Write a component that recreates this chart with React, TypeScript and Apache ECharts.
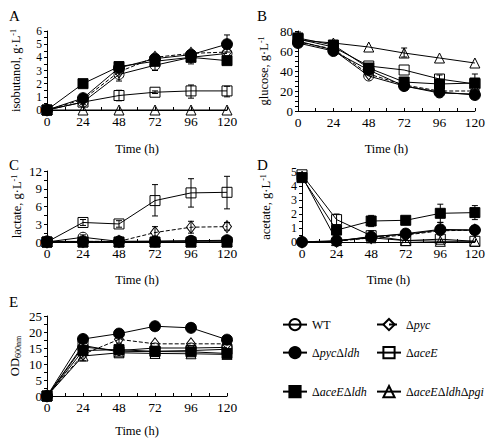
import React, { useEffect, useRef } from 'react';
import * as echarts from 'echarts';

const times = [0, 24, 48, 72, 96, 120];
const strains = ['WT', 'Δpyc', 'ΔpycΔldh', 'ΔaceE', 'ΔaceEΔldh', 'ΔaceEΔldhΔpgi'];

// rows follow the order of `strains`
const isobutanol = [
  [0, 0.6, 2.7, 3.4, 4.0, 4.3],
  [0, 0.8, 2.9, 4.0, 4.3, 4.4],
  [0, 0.9, 3.2, 3.9, 4.2, 5.0],
  [0, 0.6, 1.1, 1.35, 1.45, 1.45],
  [0, 2.0, 3.3, 3.7, 4.0, 3.75],
  [0, 0, 0, 0, 0, 0],
];
const glucose = [
  [70, 61, 35, 25, 18, 17],
  [69, 62, 37, 26, 20, 20],
  [68, 60, 41, 25, 19, 16],
  [72, 64, 45, 41, 32, 27],
  [73, 66, 43, 29, 27, 28],
  [71, 68, 64, 58, 53, 48],
];
const lactate = [
  [0, 0.8, 0.1, 0.15, 0.2, 0.2],
  [0, 0.1, 0.1, 1.6, 2.5, 2.6],
  [0.1, 0.1, 0.1, 0.1, 0.2, 0.3],
  [0, 3.3, 3.05, 7.0, 8.3, 8.4],
  [0, 0, 0, 0, 0, 0],
  [0, 0, 0, 0, 0, 0],
];
const acetate = [
  [0, 0.05, 0.4, 0.55, 0.85, 0.85],
  [0, 0.05, 0.3, 0.5, 0.8, 0.85],
  [0, 0.1, 0.35, 0.6, 0.9, 0.85],
  [4.8, 1.6, 0.45, 0.1, 0.2, 0.05],
  [4.6, 0.85, 1.5, 1.55, 2.05, 2.1],
  [4.7, 0.1, 0.3, 0.1, 0.05, 0.05],
];
const od600 = [
  [0, 15.3, 14.2, 15.0, 15.0, 15.2],
  [0, 13.0, 17.7, 16.3, 16.3, 16.3],
  [0, 17.8, 19.5, 21.8, 21.3, 17.6],
  [0, 15.8, 13.8, 14.0, 14.2, 14.6],
  [0, 14.2, 14.5, 13.9, 13.8, 13.3],
  [0, 12.5, 13.5, 13.3, 13.2, 13.0],
];

// error bars: [time, low, high]
const isobutanolErr = [
  [48, 2.2, 3.2], [72, 3.0, 3.9], [96, 3.5, 4.5], [120, 4.4, 5.7], [96, 3.9, 4.5],
  [48, 0.7, 1.5], [72, 1.25, 1.45], [96, 0.9, 1.9], [120, 1.0, 1.8], [24, 0.4, 1.0],
];
const glucoseErr = [[0, 66, 79], [24, 63, 70], [72, 54, 63], [96, 29, 36], [120, 20, 37]];
const lactateErr = [
  [24, 2.8, 3.8], [48, 2.5, 3.6], [72, 4.4, 9.7], [96, 5.9, 10.7], [120, 5.6, 11.1],
  [72, 0.7, 2.6], [96, 1.5, 3.5], [120, 2.0, 3.3], [24, 0, 1.2],
];
const acetateErr = [
  [24, 1.2, 2.0], [48, 1.1, 1.9], [72, 1.3, 1.8], [96, 1.4, 2.7], [120, 1.6, 2.6],
  [96, 0.5, 1.4], [48, 0.3, 0.8],
];
const od600Err = [[24, 11, 14], [48, 16.5, 19], [24, 15, 17]];

const panelLetters = ['A', 'B', 'C', 'D', 'E'];
const yNames = ['isobutanol, g·L{s|-1}', 'glucose, g·L{s|-1}', 'lactate, g·L{s|-1}', 'acetate, g·L{s|-1}', 'OD{b|600nm}'];
const yMax = [6, 80, 12, 5, 25];
const yInterval = [1, 20, 3, 1, 5];
const xName = 'Time (h)';

const FONT = 'Liberation Serif';

const markerStyles = [
  { symbol: 'circle', size: 10, filled: false, dashed: false },
  { symbol: 'diamond', size: [9, 12], filled: false, dashed: true },
  { symbol: 'circle', size: 11, filled: true, dashed: false },
  { symbol: 'rect', size: 10, filled: false, dashed: false },
  { symbol: 'rect', size: 10, filled: true, dashed: false },
  { symbol: 'triangle', size: 10, filled: false, dashed: false },
];

const legendFormat: Record<string, string> = {
  'WT': 'WT',
  'Δpyc': '{r|Δ}{i|pyc}',
  'ΔpycΔldh': '{r|Δ}{i|pyc}{r|Δ}{i|ldh}',
  'ΔaceE': '{r|Δ}{i|aceE}',
  'ΔaceEΔldh': '{r|Δ}{i|aceE}{r|Δ}{i|ldh}',
  'ΔaceEΔldhΔpgi': '{r|Δ}{i|aceE}{r|Δ}{i|ldh}{r|Δ}{i|pgi}',
};

export default function App() {
  const ref = useRef<HTMLDivElement>(null);
  useEffect(() => {
    if (!ref.current) return;
    const chart = echarts.init(ref.current, undefined, { renderer: 'svg' });

    const grids = [
      { left: 47, top: 31, width: 180, height: 79 },
      { left: 298, top: 31, width: 177, height: 80 },
      { left: 47, top: 171, width: 180, height: 71 },
      { left: 302, top: 172, width: 175, height: 70 },
      { left: 47, top: 316, width: 180, height: 80 },
    ];
    const nameGapsY = [24, 27, 23, 29, 25];
    const nameGapsX = [32, 31, 31, 31, 28];
    const minorSplit = [2, 4, 2, 2, 2];
    const yLabelSize = [11.5, 13, 13, 12, 13];
    const panelsData = [isobutanol, glucose, lactate, acetate, od600];
    const panelsErr = [isobutanolErr, glucoseErr, lactateErr, acetateErr, od600Err];
    const letterPos = [[9, 8], [257, 8], [9, 157], [257, 157], [9, 294]];

    const baseText = { fontFamily: FONT, fontWeight: 'normal', color: '#000' };

    const xAxes = grids.map((_, i) => ({
      type: 'value',
      gridIndex: i,
      min: 0,
      max: 120,
      interval: 24,
      name: xName,
      nameLocation: 'middle',
      nameGap: nameGapsX[i],
      nameTextStyle: { ...baseText, fontSize: 12.5 },
      axisLine: { show: true, onZero: false, lineStyle: { color: '#000', width: 1 } },
      axisTick: { show: true, inside: true, length: 3, lineStyle: { color: '#000' } },
      minorTick: { show: true, splitNumber: 2, length: 3, lineStyle: { color: '#000' } },
      axisLabel: { ...baseText, fontSize: 13.5, margin: 4, showMinLabel: true, showMaxLabel: true, hideOverlap: false },
      splitLine: { show: false },
    }));
    const yAxes = grids.map((_, i) => ({
      type: 'value',
      gridIndex: i,
      min: 0,
      max: yMax[i],
      interval: yInterval[i],
      name: yNames[i],
      nameLocation: 'middle',
      nameGap: nameGapsY[i],
      nameRotate: 90,
      nameTextStyle: {
        ...baseText, fontSize: 12.5,
        rich: {
          s: { ...baseText, fontSize: 8, verticalAlign: 'top', padding: [0, 0, 6, 0] },
          b: { ...baseText, fontSize: 8, verticalAlign: 'bottom', padding: [6, 0, 0, 0] },
        },
      },
      axisLine: { show: true, lineStyle: { color: '#000', width: 1 } },
      axisTick: { show: true, length: 3, lineStyle: { color: '#000' } },
      minorTick: { show: true, splitNumber: minorSplit[i], length: 3, lineStyle: { color: '#000' } },
      axisLabel: { ...baseText, fontSize: yLabelSize[i], lineHeight: 11, margin: 5, showMinLabel: true, showMaxLabel: true, hideOverlap: false },
      splitLine: { show: false },
    }));

    const series: any[] = [];
    panelsData.forEach((rows, p) => {
      rows.forEach((vals, s) => {
        const m = markerStyles[s];
        series.push({
          type: 'line',
          name: strains[s],
          xAxisIndex: p,
          yAxisIndex: p,
          data: vals.map((v, k) => [times[k], v]),
          symbol: m.symbol,
          symbolSize: m.size,
          lineStyle: { color: '#000', width: 1, type: m.dashed ? 'dashed' : 'solid' },
          itemStyle: {
            color: m.filled ? '#000' : 'rgba(255,255,255,0)',
            borderColor: '#000',
            borderWidth: 1,
          },
          z: m.filled ? 4 : 3,
          emphasis: { disabled: true },
        });
      });
      series.push({
        type: 'custom',
        name: 'err' + p,
        xAxisIndex: p,
        yAxisIndex: p,
        data: panelsErr[p],
        encode: { x: 0, y: [1, 2] },
        z: 5,
        renderItem: (params: any, api: any) => {
          const x = api.value(0);
          const a = api.coord([x, api.value(1)]);
          const b = api.coord([x, api.value(2)]);
          const w = 3;
          const st = { stroke: '#000', lineWidth: 1 };
          return {
            type: 'group',
            children: [
              { type: 'line', shape: { x1: a[0], y1: a[1], x2: b[0], y2: b[1] }, style: st },
              { type: 'line', shape: { x1: a[0] - w, y1: a[1], x2: a[0] + w, y2: a[1] }, style: st },
              { type: 'line', shape: { x1: b[0] - w, y1: b[1], x2: b[0] + w, y2: b[1] }, style: st },
            ],
          };
        },
      });
    });

    const legendPos = [
      [282, 318], [376, 318],
      [282, 346], [376, 346],
      [282, 385], [376, 385],
    ];
    const legends = strains.map((name, i) => ({
      data: [name],
      left: legendPos[i][0],
      top: legendPos[i][1],
      padding: 0,
      itemWidth: 24,
      itemHeight: 14,
      itemGap: 8,
      selectedMode: false,
      formatter: (n: string) => legendFormat[n],
      textStyle: {
        ...baseText, fontSize: 12,
        rich: {
          r: { ...baseText, fontSize: 12 },
          i: { ...baseText, fontSize: 12, fontStyle: 'italic' },
        },
      },
    }));

    chart.setOption({
      animation: false,
      backgroundColor: '#fff',
      textStyle: { fontFamily: FONT },
      grid: grids,
      xAxis: xAxes,
      yAxis: yAxes,
      legend: legends,
      series,
      graphic: panelLetters.map((t, i) => ({
        type: 'text',
        left: letterPos[i][0],
        top: letterPos[i][1],
        style: { text: t, fontFamily: FONT, fontSize: 15, fontWeight: 'normal', fill: '#000' },
      })),
    });
    return () => chart.dispose();
  }, []);
  return <div ref={ref} style={{ position: 'fixed', left: 0, top: 0, width: 488, height: 439 }} />;
}
